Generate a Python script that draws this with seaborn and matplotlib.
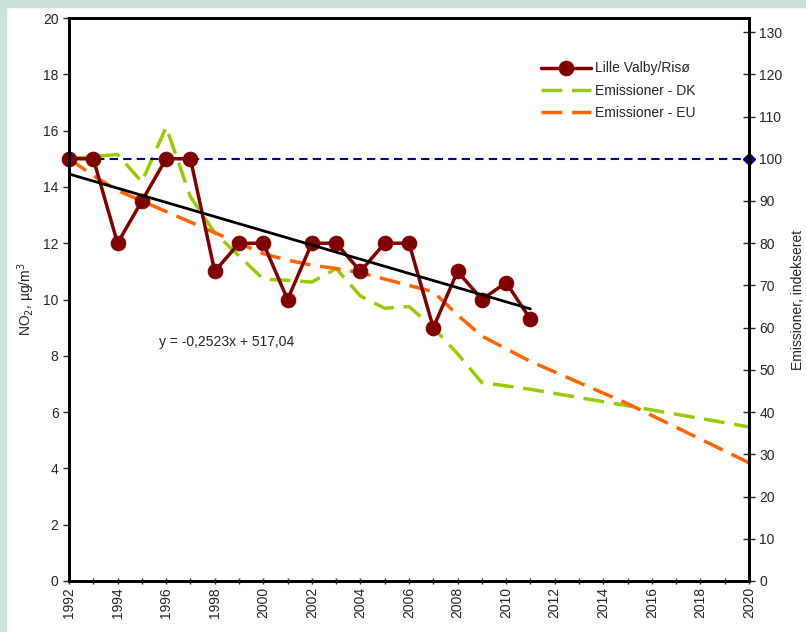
import numpy as np
import pandas as pd
import matplotlib.pyplot as plt
import seaborn as sns
from matplotlib.patches import Rectangle
from matplotlib.ticker import MultipleLocator

sns.set_style("white")
plt.rcParams['font.family'] = ['Liberation Sans', 'DejaVu Sans']

# --- DATA ---
# NO2 measurements, Lille Valby/Risø (left axis, µg/m3)
years_no2 = [1992, 1993, 1994, 1995, 1996, 1997, 1998, 1999, 2000, 2001,
             2002, 2003, 2004, 2005, 2006, 2007, 2008, 2009, 2010, 2011]
no2 = [15, 15, 12, 13.5, 15, 15, 11, 12, 12, 10,
       12, 12, 11, 12, 12, 9, 11, 10, 10.6, 9.3]

# emissions, indexed (right axis)
years_emis = [1992, 1993, 1994, 1995, 1996, 1997, 1998, 1999, 2000, 2001,
              2002, 2003, 2004, 2005, 2006, 2007, 2008, 2009, 2010, 2011,
              2015, 2020]
emis_dk = [100, 100.5, 101, 94.5, 107.5, 91, 82.5, 77, 71.5, 71.2,
           70.8, 74, 67.5, 64.6, 65, 60, 53.8, 47, 46.2, 45.4,
           41.5, 36.5]
emis_eu = [100, 96, 92.5, 90, 87.5, 85, 82.5, 80, 77.5, 76,
           74.8, 74, 73, 71.5, 70, 68.5, 63, 58, 55, 52,
           42, 28]

# reference line at index 100
ref_years = [1992, 2020]
ref_index = [100, 100]

# linear trend from the chart label
slope, intercept = -0.2523, 517.04
trend_years = [1992, 2011]
trend_vals = [slope * yr + intercept for yr in trend_years]

df_no2 = pd.DataFrame({'year': years_no2, 'no2': no2})
df_emis = pd.DataFrame({'year': years_emis, 'dk': emis_dk, 'eu': emis_eu})

# --- PLOTTING ---
fig = plt.figure(figsize=(8.06, 6.32), dpi=100)
fig.patch.set_facecolor('white')
mint = '#c8e4da'
fig.patches.append(Rectangle((0, 0), 6 / 806, 1, transform=fig.transFigure, color=mint, zorder=0))
fig.patches.append(Rectangle((0, 1 - 7 / 632), 1, 7 / 632, transform=fig.transFigure, color=mint, zorder=0))

ax = fig.add_axes([69 / 806, 51 / 632, 680 / 806, 563 / 632])
ax2 = ax.twinx()

# emissions on the right axis
sns.lineplot(data=df_emis, x='year', y='dk', ax=ax2, color='#99cc00', lw=2.5,
             dashes=False, label='Emissioner - DK')
sns.lineplot(data=df_emis, x='year', y='eu', ax=ax2, color='#ff6600', lw=2.5,
             dashes=False, label='Emissioner - EU')
ax2.lines[0].set_dashes([6, 2.8])
ax2.lines[1].set_dashes([6, 2.8])
ax2.plot(ref_years, ref_index, color='#000080', lw=1.5, dashes=[4, 2.5],
         marker='D', ms=6, clip_on=False)
ax2.get_legend().remove()

# measurements on the left axis
sns.lineplot(data=df_no2, x='year', y='no2', ax=ax, color='#800000', lw=2.5,
             marker='o', markersize=10.5, markeredgecolor='#800000',
             label='Lille Valby/Risø', clip_on=False)
ax.plot(trend_years, trend_vals, color='black', lw=2)
ax.get_legend().remove()

ax.set_zorder(ax2.get_zorder() + 1)
ax.patch.set_visible(False)

ax.text(1995.7, 8.5, 'y = -0,2523x + 517,04', fontsize=10, ha='left', va='center')

# axes limits and ticks
ax.set_xlim(1992, 2020)
ax.set_ylim(0, 20)
ax2.set_ylim(0, 20 / 15 * 100)
ax.xaxis.set_minor_locator(MultipleLocator(1))
ax.yaxis.set_major_locator(MultipleLocator(2))
ax2.yaxis.set_major_locator(MultipleLocator(10))
ax.set_xticks(range(1992, 2021, 2))
ax.set_xticklabels([str(y) for y in range(1992, 2021, 2)], rotation=90)

ax.tick_params(axis='x', which='both', direction='inout', length=5, width=1, labelsize=10, bottom=True, pad=2)
ax.tick_params(axis='y', direction='out', length=4, width=1, labelsize=10, left=True)
ax2.tick_params(axis='y', direction='inout', length=8, width=1, labelsize=10, right=True)

for a in (ax, ax2):
    for s in a.spines.values():
        s.set_color('black')
        s.set_linewidth(2)

ax.set_xlabel('')
ax.set_ylabel('NO$_2$, µg/m$^3$', fontsize=10, labelpad=4)
ax2.set_ylabel('Emissioner, indekseret', fontsize=10, labelpad=6)

# legend
handles = ax.get_lines()[:1] + ax2.get_lines()[:2]
labels = ['Lille Valby/Risø', 'Emissioner - DK', 'Emissioner - EU']
ax.legend(handles, labels, loc='upper left', bbox_to_anchor=(0.675, 0.945),
          frameon=False, fontsize=10, handlelength=3.6, labelspacing=0.6,
          handletextpad=0.3)

fig.savefig('out.png', dpi=100)
